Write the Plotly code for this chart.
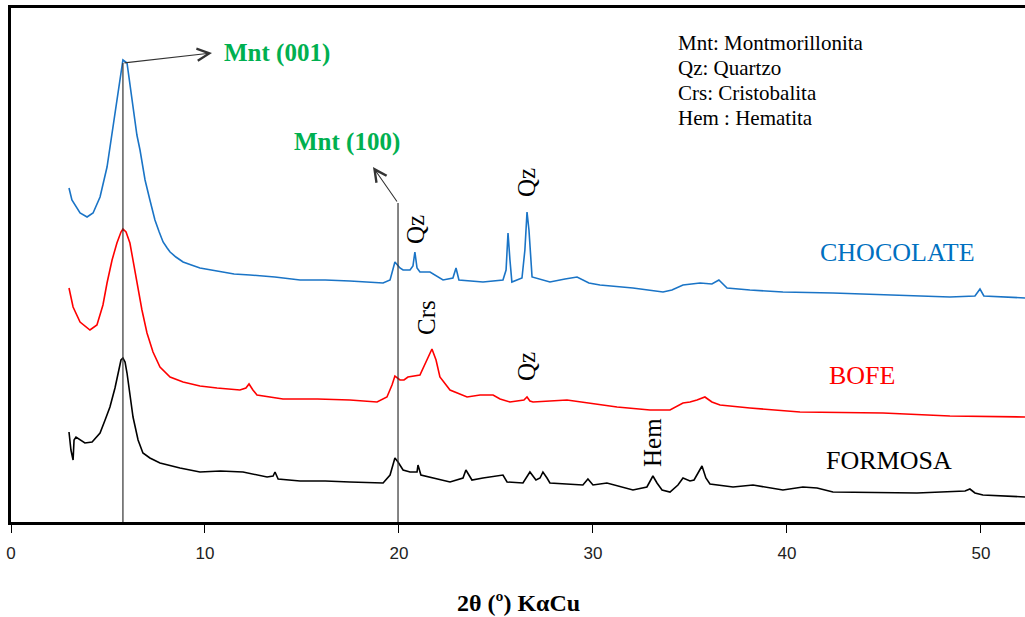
import plotly.graph_objects as go

# ---------------- data (2θ in degrees, intensity in a.u. incl. vertical offsets) ----------------
choc_x = [2.99, 3.14, 3.56, 3.92, 4.23, 4.59, 4.95, 5.21, 5.46, 5.67, 5.77, 5.98, 6.13, 6.29, 6.49,
          6.65, 6.91, 7.16, 7.42, 7.64, 7.84, 8.05, 8.20, 8.50, 8.87, 9.30, 9.74, 10.62, 11.50, 12.32,
          13.60, 14.90, 16.20, 17.47, 18.40, 19.18, 19.54,
          19.79, 20.05, 20.21, 20.57, 20.72, 20.82, 20.93, 21.08, 21.60, 22.27, 22.78, 22.94, 23.09,
          24.33, 25.36, 25.52, 25.62, 25.72, 25.82, 26.34, 26.49, 26.60, 26.70, 26.86, 27.78, 28.56,
          29.18, 29.79, 30.36, 32.06, 33.61, 34.07, 34.64, 35.52, 36.13, 36.49, 36.91, 38.09, 39.79,
          42.37, 44.95, 48.40, 49.69, 49.95, 50.15, 52.27]
choc_y = [334, 322, 309, 305, 309, 325, 355, 389, 422, 449, 462, 459, 437, 412, 387,
          372, 342, 322, 302, 290, 280, 274, 270, 265, 260, 257, 254, 251, 248, 247,
          245, 242, 242, 241, 240, 239, 242,
          260, 254, 252, 252, 256, 270, 254, 250, 250, 242, 244, 254, 242,
          240, 242, 252, 289, 262, 240, 244, 272, 310, 292, 245, 240, 243,
          245, 239, 237, 234, 230, 232, 237, 239, 238, 242, 234, 232, 230,
          229, 227, 225, 226, 233, 226, 224]

bofe_x = [2.99, 3.20, 3.56, 4.07, 4.43, 4.74, 4.95, 5.21, 5.46, 5.67, 5.77, 5.93, 6.13, 6.34, 6.49,
          6.75, 7.01, 7.32, 7.68, 8.20, 8.87, 9.74, 10.62, 11.80, 12.11, 12.27, 12.47, 12.68, 14.02,
          15.80, 17.47, 18.87, 19.38, 19.64, 19.79, 20.05, 20.26, 20.46, 21.08, 21.39, 21.70, 21.91, 22.11,
          22.63, 23.51, 24.18, 24.85, 25.21, 25.72, 26.44, 26.60, 26.75, 26.91, 28.66, 29.48, 31.24,
          32.94, 33.97, 34.64, 35.00, 35.36, 35.77, 36.13, 36.55, 38.09, 40.67, 44.95, 48.40, 52.27]
bofe_y = [234, 215, 200, 192, 197, 217, 239, 262, 279, 290, 293, 290, 279, 257, 239,
          212, 189, 170, 155, 145, 140, 136, 134, 132, 134, 138, 132, 127, 123,
          123, 122, 120, 125, 137, 146, 142, 142, 145, 147, 160, 173, 162, 145,
          132, 125, 127, 127, 123, 120, 122, 125, 121, 120, 122, 120, 115,
          112, 112, 119, 120, 122, 125, 120, 117, 114, 110, 109, 106, 105]

form_x = [2.99, 3.09, 3.20, 3.25, 3.35, 3.81, 4.18, 4.59, 4.85, 5.10, 5.36, 5.52, 5.67, 5.77, 5.88,
          5.98, 6.13, 6.29, 6.55, 6.80, 7.16, 7.68, 8.71, 9.74, 10.80, 11.96, 13.20, 13.51, 13.61, 13.77,
          14.90, 16.20, 17.47, 19.18, 19.54, 19.79, 19.95, 20.21, 20.57, 20.93, 20.98, 21.13, 22.63, 23.30,
          23.45, 23.61, 23.76, 24.33, 25.21, 25.36, 25.57, 26.39, 26.75, 27.06, 27.27, 27.42, 27.63,
          27.78, 29.48, 29.74, 30.00, 30.72, 32.06, 32.78, 33.09, 33.30, 33.56, 33.97, 34.38, 34.64,
          35.00, 35.21, 35.62, 35.82, 36.03, 37.22, 38.25, 39.79, 40.82, 41.55, 42.37, 46.70, 49.18,
          49.43, 49.69, 50.10, 52.27]
form_y = [90, 72, 62, 82, 85, 79, 80, 89, 102, 115, 134, 149, 162, 164, 160,
          149, 127, 105, 82, 69, 64, 59, 54, 50, 51, 50, 45, 46, 50, 43,
          41, 41, 40, 39, 47, 64, 60, 52, 50, 50, 57, 47, 40, 44,
          52, 47, 42, 44, 46, 47, 40, 39, 50, 42, 44, 50, 44,
          39, 37, 43, 37, 39, 32, 35, 46, 39, 32, 30, 37, 44,
          41, 42, 56, 44, 38, 35, 37, 32, 35, 34, 30, 29, 31,
          33, 29, 27, 25]

series_names = ["CHOCOLATE", "BOFE", "FORMOSA"]
series_colors = ["#1a74c6", "#ff0000", "#000000"]

# Montmorillonite reflections (2θ) and the height of the marker lines
mnt_x = [5.77, 19.95]
mnt_top = [459, 319]

# phase labels: text, 2θ position, height
phase_text = ["Qz", "Qz", "Crs", "Qz", "Hem"]
phase_x = [20.83, 26.55, 21.39, 26.55, 33.04]
phase_y = [292, 339, 205, 155, 80]

legend_lines = ["Mnt: Montmorillonita", "Qz: Quartzo", "Crs: Cristobalita", "Hem : Hematita"]

x_ticks = [0, 10, 20, 30, 40, 50]

# ---------------- figure ----------------
fig = go.Figure()

for xs, ys, name, col in zip([choc_x, bofe_x, form_x], [choc_y, bofe_y, form_y],
                             series_names, series_colors):
    fig.add_trace(go.Scatter(x=xs, y=ys, mode="lines", name=name,
                             line=dict(color=col, width=1.6), showlegend=False,
                             hoverinfo="skip"))

for mx, mt in zip(mnt_x, mnt_top):
    fig.add_trace(go.Scatter(x=[mx, mx], y=[0, mt], mode="lines",
                             line=dict(color="#333333", width=1.2),
                             showlegend=False, hoverinfo="skip"))

serif = "Liberation Serif"
ann = []

# arrows from the Mnt lines
ann.append(dict(x=10.36, y=469, ax=mnt_x[0], ay=mnt_top[0], xref="x", yref="y",
                axref="x", ayref="y", text="", showarrow=True, arrowhead=5,
                arrowsize=2.2, arrowwidth=1.1, arrowcolor="#333333"))
ann.append(dict(x=18.66, y=355, ax=mnt_x[1], ay=mnt_top[1], xref="x", yref="y",
                axref="x", ayref="y", text="", showarrow=True, arrowhead=5,
                arrowsize=2.2, arrowwidth=1.1, arrowcolor="#333333"))

green = dict(family=serif, size=25, color="#00b050")
ann.append(dict(x=10.9, y=469, xref="x", yref="y", text="<b>Mnt (001)</b>",
                showarrow=False, xanchor="left", yanchor="middle", font=green))
ann.append(dict(x=17.3, y=380, xref="x", yref="y", text="<b>Mnt (100)</b>",
                showarrow=False, xanchor="center", yanchor="middle", font=green))

for t, px_, py_ in zip(phase_text, phase_x, phase_y):
    ann.append(dict(x=px_, y=py_, xref="x", yref="y", text=t, textangle=-90,
                    showarrow=False, xanchor="center", yanchor="middle",
                    font=dict(family=serif, size=25, color="#000000")))

label_pos = [(45.70, 270), (43.85, 147), (45.25, 62)]
for name, col, (lx, ly) in zip(series_names, ["#0070c0", "#ff0000", "#000000"], label_pos):
    ann.append(dict(x=lx, y=ly, xref="x", yref="y", text=name, showarrow=False,
                    xanchor="center", yanchor="middle",
                    font=dict(family=serif, size=26, color=col)))

for i, line in enumerate(legend_lines):
    ann.append(dict(x=34.3, y=479 - 25 * i, xref="x", yref="y", text=line,
                    showarrow=False, xanchor="left", yanchor="middle",
                    font=dict(family=serif, size=21, color="#000000")))

ann.append(dict(x=0.5, y=-0.158, xref="paper", yref="paper",
                text="<b>2θ (º) KαCu</b>", showarrow=False,
                xanchor="center", yanchor="middle",
                font=dict(family=serif, size=24, color="#000000")))

fig.update_layout(
    width=1025, height=617,
    margin=dict(l=11, r=0, t=8, b=95),
    paper_bgcolor="white", plot_bgcolor="white",
    annotations=ann,
    xaxis=dict(range=[0, 52.27], tickvals=x_ticks, ticktext=[str(v) for v in x_ticks],
               ticks="outside", ticklen=8, tickwidth=1, tickcolor="#000000",
               showline=True, linewidth=2.5, linecolor="#000000", mirror=True,
               showgrid=False, zeroline=False, ticklabelstandoff=6,
               tickfont=dict(family="Liberation Sans", size=17, color="#222222")),
    yaxis=dict(range=[0, 514], showticklabels=False, ticks="", showline=True,
               linewidth=2.5, linecolor="#000000", showgrid=False, zeroline=False),
)

fig.write_html("out.html")
